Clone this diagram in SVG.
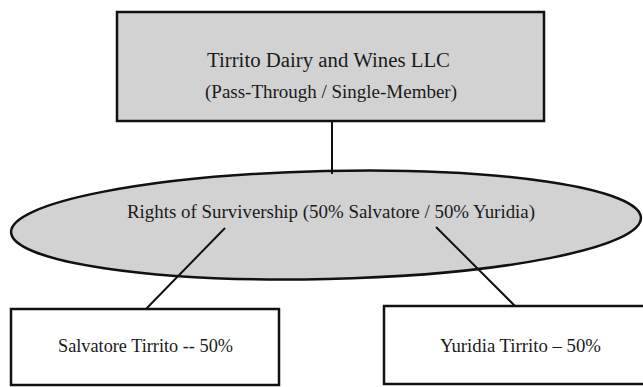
<svg xmlns="http://www.w3.org/2000/svg" width="643" height="387" viewBox="0 0 643 387">
<style>
.shape{fill:#d2d2d2;stroke:#111;stroke-width:2.5}
.box{fill:#fff;stroke:#111;stroke-width:2.5}
.conn{stroke:#111;stroke-width:2;fill:none}
text{font-family:"Liberation Serif","Times New Roman",serif;fill:#1a1a1a}
</style>
<rect width="643" height="387" fill="#fff"/>
<g id="llc">
<rect class="shape" x="117" y="12" width="427" height="109"/>
<text x="328.5" y="67" font-size="20" text-anchor="middle" textLength="243" lengthAdjust="spacingAndGlyphs">Tirrito Dairy and Wines LLC</text>
<text x="331" y="98" font-size="18.5" text-anchor="middle" textLength="252" lengthAdjust="spacingAndGlyphs">(Pass-Through / Single-Member)</text>
</g>
<g id="survivorship">
<ellipse class="shape" cx="326" cy="225" rx="315" ry="54" transform="rotate(-1.3 326 225)"/>
<text x="331" y="218" font-size="18.5" text-anchor="middle" textLength="408" lengthAdjust="spacingAndGlyphs">Rights of Survivership (50% Salvatore / 50% Yuridia)</text>
</g>
<g id="connectors">
<line class="conn" x1="332" y1="121" x2="332" y2="174"/>
<line class="conn" x1="225" y1="228" x2="146" y2="309"/>
<line class="conn" x1="436" y1="227" x2="515" y2="306"/>
</g>
<g id="salvatore">
<rect class="box" x="11" y="309" width="268" height="76"/>
<text x="145.5" y="352" font-size="19" text-anchor="middle" textLength="175" lengthAdjust="spacingAndGlyphs">Salvatore Tirrito -- 50%</text>
</g>
<g id="yuridia">
<rect class="box" x="384" y="306" width="270" height="78"/>
<text x="520.5" y="352" font-size="19" text-anchor="middle" textLength="161" lengthAdjust="spacingAndGlyphs">Yuridia Tirrito – 50%</text>
</g>
</svg>
